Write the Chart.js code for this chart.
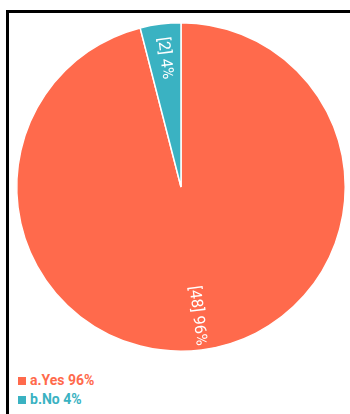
<!DOCTYPE html>
<html>
<head>
<meta charset="utf-8">
<script src="https://cdn.jsdelivr.net/npm/chart.js@4"></script>
<style>
  html, body { margin: 0; padding: 0; background: #fff; }
  body { width: 350px; height: 414px; position: relative; overflow: hidden; font-family: Roboto, "Noto Sans", sans-serif; }
  #frame { position: absolute; left: 6px; top: 10px; width: 400px; height: 500px; border: 3px solid #000; box-sizing: border-box; }
  #wrap { position: absolute; left: 0; top: 0; width: 350px; height: 360px; }
  #legend { position: absolute; left: 18px; top: 371px; font-size: 14px; font-weight: bold; }
  #legend div { height: 19px; line-height: 19px; display: flex; align-items: center; }
  #legend span.box { display: inline-block; width: 8px; height: 8px; margin-right: 4px; }
</style>
</head>
<body>
<div id="frame"></div>
<div id="wrap"><canvas id="pie"></canvas></div>
<div id="legend"></div>
<script>
const labels = ['a.Yes', 'b.No'];
const counts = [48, 2];
const colors = ['#ff6a4c', '#3ab2c2'];

const total = counts.reduce((a, b) => a + b, 0);
const pct = counts.map(c => Math.round(c / total * 100));

// white text along the radius of each slice: "[count] pct%"
const sliceLabels = {
  id: 'sliceLabels',
  afterDatasetsDraw(chart) {
    const ctx = chart.ctx;
    const arcs = chart.getDatasetMeta(0).data;
    ctx.save();
    ctx.fillStyle = '#fff';
    ctx.font = '16px Roboto';
    ctx.textAlign = 'center';
    ctx.textBaseline = 'middle';
    arcs.forEach((arc, i) => {
      const mid = (arc.startAngle + arc.endAngle) / 2;
      const r = arc.outerRadius * 0.79;
      const x = arc.x + Math.cos(mid) * r;
      const y = arc.y + Math.sin(mid) * r;
      let rot = mid;
      // keep text reading downwards
      if (Math.cos(rot) < 0) rot += Math.PI;
      ctx.save();
      ctx.translate(x, y);
      ctx.rotate(rot);
      ctx.fillText('[' + counts[i] + '] ' + pct[i] + '%', 0, 0);
      ctx.restore();
    });
    ctx.restore();
  }
};

new Chart(document.getElementById('pie'), {
  type: 'pie',
  data: {
    labels: labels,
    datasets: [{
      data: counts,
      backgroundColor: colors,
      borderColor: '#fff',
      borderWidth: 1.5
    }]
  },
  options: {
    responsive: true,
    maintainAspectRatio: false,
    animation: false,
    layout: { padding: { left: 16, right: 4, top: 22, bottom: 8 } },
    plugins: {
      legend: { display: false },
      tooltip: { enabled: false }
    }
  },
  plugins: [sliceLabels]
});

const legend = document.getElementById('legend');
labels.forEach((l, i) => {
  const row = document.createElement('div');
  row.style.color = colors[i];
  row.innerHTML = '<span class="box" style="background:' + colors[i] + '"></span>' + l + ' ' + pct[i] + '%';
  legend.appendChild(row);
});
</script>
</body>
</html>
